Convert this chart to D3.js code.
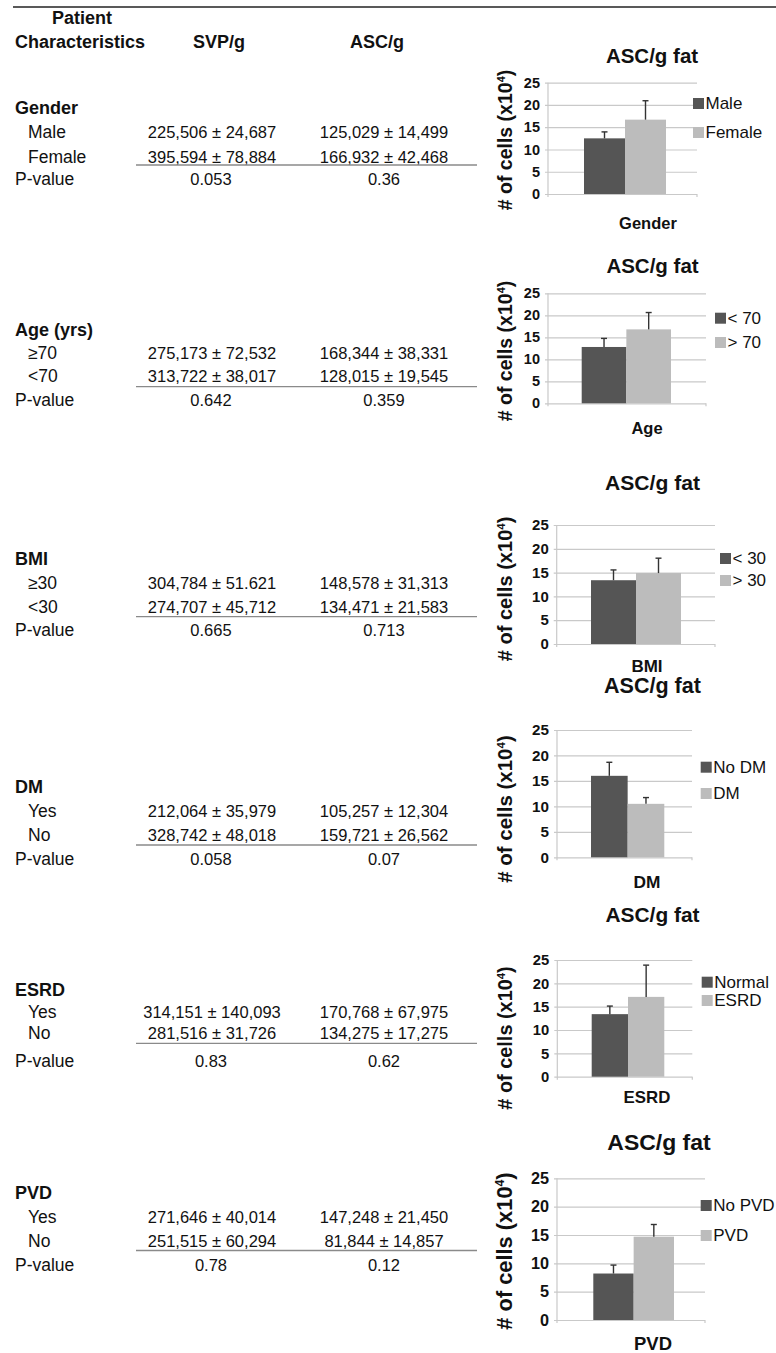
<!DOCTYPE html>
<html>
<head>
<meta charset="utf-8">
<script src="https://cdn.jsdelivr.net/npm/d3@7"></script>
<style>
body { margin: 0; background: #fff; }
svg { display: block; font-family: "Liberation Sans", Arial, sans-serif; }
</style>
</head>
<body>
<svg id="fig" width="776" height="1353"></svg>
<script>
// _____________ table data
var sections = ["Gender", "Age (yrs)", "BMI", "DM", "ESRD", "PVD"]
var rowLabels = [["Male", "Female"], ["\u226570", "<70"], ["\u226530", "<30"], ["Yes", "No"], ["Yes", "No"], ["Yes", "No"]]
var svpValues = [
	["225,506 \u00b1 24,687", "395,594 \u00b1 78,884"],
	["275,173 \u00b1 72,532", "313,722 \u00b1 38,017"],
	["304,784 \u00b1 51.621", "274,707 \u00b1 45,712"],
	["212,064 \u00b1 35,979", "328,742 \u00b1 48,018"],
	["314,151 \u00b1 140,093", "281,516 \u00b1 31,726"],
	["271,646 \u00b1 40,014", "251,515 \u00b1 60,294"]
]
var ascValues = [
	["125,029 \u00b1 14,499", "166,932 \u00b1 42,468"],
	["168,344 \u00b1 38,331", "128,015 \u00b1 19,545"],
	["148,578 \u00b1 31,313", "134,471 \u00b1 21,583"],
	["105,257 \u00b1 12,304", "159,721 \u00b1 26,562"],
	["170,768 \u00b1 67,975", "134,275 \u00b1 17,275"],
	["147,248 \u00b1 21,450", "81,844 \u00b1 14,857"]
]
var svpP = ["0.053", "0.642", "0.665", "0.058", "0.83", "0.78"]
var ascP = ["0.36", "0.359", "0.713", "0.07", "0.62", "0.12"]

// _____________ chart data (ASC/g fat, x10^4 cells)
var chartLabels = ["Gender", "Age", "BMI", "DM", "ESRD", "PVD"]
var legendLabels = [["Male", "Female"], ["< 70", "> 70"], ["< 30", "> 30"], ["No DM", "DM"], ["Normal", "ESRD"], ["No PVD", "PVD"]]
var ascMeans = [[12.5, 16.7], [12.8, 16.8], [13.4, 14.9], [16.0, 10.5], [13.4, 17.1], [8.2, 14.7]]
var ascErrors = [[1.45, 4.25], [1.95, 3.83], [2.16, 3.13], [2.66, 1.23], [1.73, 6.80], [1.49, 2.15]]
var yTicks = [0, 5, 10, 15, 20, 25]

// _____________ layout
var rowY = [
	[114.3, 137.7, 162.7, 165, 185],
	[336, 359.3, 382.3, 386.7, 406],
	[565, 589.3, 612.7, 616.7, 636],
	[793.3, 816.7, 840.7, 845, 865],
	[995.7, 1017.7, 1039, 1043.3, 1066.7],
	[1199.3, 1223.3, 1246.7, 1250.5, 1270.5]
]
var boxes = [
	{top: 82.7, bottom: 194, left: 548, right: 697, b0: 584, b1: 666, leg: 693, legY: [98, 127], tx: 652, ty: 62.7, ay: 140, lx: 648, ly: 228.5, k: 1},
	{top: 293.3, bottom: 403.3, left: 548, right: 706, b0: 581.7, b1: 671, leg: 715, legY: [312.7, 337], tx: 652.5, ty: 272.7, ay: 351, lx: 647, ly: 434, k: 1},
	{top: 525, bottom: 644, left: 556.7, right: 715, b0: 591, b1: 681, leg: 720, legY: [553, 575], tx: 652.5, ty: 490, ay: 589, lx: 647, ly: 671.5, k: 1.03},
	{top: 730, bottom: 857.3, left: 557, right: 692, b0: 591, b1: 664.3, leg: 700.7, legY: [761.7, 788], tx: 652.5, ty: 692.5, ay: 809, lx: 647, ly: 888, k: 1.05},
	{top: 960, bottom: 1076.7, left: 557.3, right: 692.3, b0: 591.7, b1: 664.3, leg: 701.7, legY: [976.7, 995], tx: 652.5, ty: 921.7, ay: 1038, lx: 647, ly: 1103, k: 1.02},
	{top: 1178.3, bottom: 1320, left: 557, right: 705, b0: 593.3, b1: 674, leg: 700.7, legY: [1200, 1230], tx: 659, ty: 1150, ay: 1251, lx: 653, ly: 1350, k: 1.12}
]
var colors = ["#555555", "#bcbcbc"]

var svg = d3.select("#fig")

// _____________ top rule + header
svg.append("line")
	.attr("x1", 13).attr("x2", 776).attr("y1", 7).attr("y2", 7)
	.style("stroke", "#222").style("stroke-width", 1.3)

var head = svg.append("g").style("font-weight", "bold").style("font-size", "18px").style("fill", "#111")
head.append("text").attr("x", 82).attr("y", 24).attr("text-anchor", "middle").text("Patient")
head.append("text").attr("x", 15).attr("y", 47.7).text("Characteristics")
head.append("text").attr("x", 219).attr("y", 47.7).attr("text-anchor", "middle").text("SVP/g")
head.append("text").attr("x", 377).attr("y", 47.7).attr("text-anchor", "middle").text("ASC/g")

// _____________ table sections
var sec = svg.selectAll("g.sec")
	.data(sections)
	.enter()
	.append("g")
		.classed("sec", true)
		.style("fill", "#111")

sec.append("text")
	.attr("x", 15).attr("y", function (d, i) { return rowY[i][0] })
	.style("font-weight", "bold")
	.style("font-size", "18px")
	.text(function (d) { return d })

sec.each(function (d, i) {
	var g = d3.select(this)
	var r = rowY[i]
	rowLabels[i].forEach(function (lab, j) {
		g.append("text").attr("x", 28).attr("y", r[j + 1]).style("font-size", "17.5px").text(lab)
		g.append("text").attr("x", 212).attr("y", r[j + 1]).attr("text-anchor", "middle").style("font-size", "16.5px").text(svpValues[i][j])
		g.append("text").attr("x", 384).attr("y", r[j + 1]).attr("text-anchor", "middle").style("font-size", "16.5px").text(ascValues[i][j])
	})
	g.append("line")
		.attr("x1", 136).attr("x2", 477).attr("y1", r[3]).attr("y2", r[3])
		.style("stroke", "#8a8a8a").style("stroke-width", 1.3)
	g.append("text").attr("x", 15).attr("y", r[4]).style("font-size", "17.5px").text("P-value")
	g.append("text").attr("x", 211).attr("y", r[4]).attr("text-anchor", "middle").style("font-size", "16.5px").text(svpP[i])
	g.append("text").attr("x", 384).attr("y", r[4]).attr("text-anchor", "middle").style("font-size", "16.5px").text(ascP[i])
})

// _____________ bar charts
boxes.forEach(function (b, i) {
	var k = b.k
	var g = svg.append("g").classed("chart", true)

	var y = d3.scaleLinear().domain([0, 25]).range([b.bottom, b.top])
	var x = d3.scaleBand().domain([0, 1]).range([b.b0, b.b1]).padding(0)

	// gridlines + tick labels
	var ax = g.append("g")
		.attr("transform", "translate(" + (b.left - 3) + ",0)")
		.call(d3.axisLeft(y).tickValues(yTicks).tickSize(-(b.right - b.left + 3)).tickPadding(5))
	ax.select(".domain").remove()
	ax.selectAll(".tick line").style("stroke", "#c9c9c9").style("stroke-width", 1.2)
	ax.selectAll(".tick text")
		.style("font-family", "'Liberation Sans', Arial, sans-serif")
		.style("font-size", (14.5 * k) + "px")
		.style("font-weight", "bold")
		.style("fill", "#111")

	// axis lines
	g.append("line")
		.attr("x1", b.left).attr("x2", b.left).attr("y1", b.top).attr("y2", b.bottom + 3)
		.style("stroke", "#c9c9c9").style("stroke-width", 1.2)
	g.append("line")
		.attr("x1", b.right).attr("x2", b.right).attr("y1", b.bottom).attr("y2", b.bottom + 3)
		.style("stroke", "#c9c9c9").style("stroke-width", 1.2)

	// bars
	g.selectAll("rect.bar")
		.data(ascMeans[i])
		.enter()
		.append("rect")
			.classed("bar", true)
			.attr("x", function (d, j) { return x(j) })
			.attr("width", x.bandwidth())
			.attr("y", function (d) { return y(d) })
			.attr("height", function (d) { return b.bottom - y(d) })
			.style("fill", function (d, j) { return colors[j] })

	// error bars
	var err = g.selectAll("g.err")
		.data(ascMeans[i])
		.enter()
		.append("g")
			.classed("err", true)
			.style("stroke", "#333").style("stroke-width", 1.4)
	err.append("line")
		.attr("x1", function (d, j) { return x(j) + x.bandwidth() / 2 })
		.attr("x2", function (d, j) { return x(j) + x.bandwidth() / 2 })
		.attr("y1", function (d) { return y(d) })
		.attr("y2", function (d, j) { return y(d + ascErrors[i][j]) })
	err.append("line")
		.attr("x1", function (d, j) { return x(j) + x.bandwidth() / 2 - 3 })
		.attr("x2", function (d, j) { return x(j) + x.bandwidth() / 2 + 3 })
		.attr("y1", function (d, j) { return y(d + ascErrors[i][j]) })
		.attr("y2", function (d, j) { return y(d + ascErrors[i][j]) })

	// title
	g.append("text")
		.attr("x", b.tx).attr("y", b.ty)
		.attr("text-anchor", "middle")
		.style("font-size", (20.5 * k) + "px").style("font-weight", "bold").style("fill", "#111")
		.text("ASC/g fat")

	// x label
	g.append("text")
		.attr("x", b.lx).attr("y", b.ly)
		.attr("text-anchor", "middle")
		.style("font-size", (16.5 * k) + "px").style("font-weight", "bold").style("fill", "#111")
		.text(chartLabels[i])

	// y title
	var yt = g.append("text")
		.attr("transform", "translate(" + 512 + "," + b.ay + ") rotate(-90)")
		.attr("text-anchor", "middle")
		.style("font-size", (19.5 * k) + "px").style("font-weight", "bold").style("fill", "#111")
	yt.append("tspan").text("# of cells (x10")
	yt.append("tspan").attr("dy", -7 * k).style("font-size", (11 * k) + "px").text("4")
	yt.append("tspan").attr("dy", 7 * k).text(")")

	// legend
	var leg = g.selectAll("g.leg")
		.data(legendLabels[i])
		.enter()
		.append("g")
			.classed("leg", true)
			.attr("transform", function (d, j) { return "translate(" + b.leg + "," + b.legY[j] + ")" })
	leg.append("rect")
		.attr("width", 11).attr("height", 11)
		.style("fill", function (d, j) { return colors[j] })
	leg.append("text")
		.attr("x", 12.5).attr("y", 11)
		.style("font-size", "17px").style("fill", "#111")
		.text(function (d) { return d })
})
</script>
</body>
</html>
